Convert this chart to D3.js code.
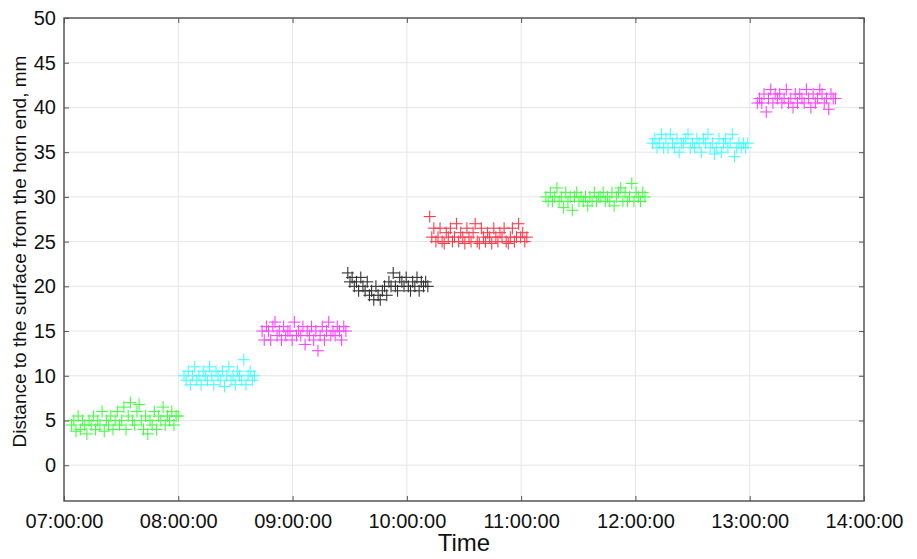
<!DOCTYPE html>
<html>
<head>
<meta charset="utf-8">
<script src="https://cdn.jsdelivr.net/npm/d3@7"></script>
<style>
  body { margin: 0; background: #fff; }
  svg text { font-family: "Liberation Sans", Arial, Helvetica, sans-serif; fill: #111; }
</style>
</head>
<body>
<div id="chart"></div>
<script>
// segment time windows (start, end) and readings, mm
const segStarts = ["07:04", "08:03", "08:44", "09:29", "10:12", "11:13", "12:09", "13:04"];
const segEnds   = ["08:00", "08:40", "09:28", "10:11", "11:03", "12:05", "12:59", "13:45"];
const segColors = ["#44ff44", "#44ffff", "#ff44ff", "#333333", "#ff3a4a", "#44ff44", "#44ffff", "#ff44ff"];

const seg1 = [4.5,5.0,3.8,5.5,4.0,5.0,4.5,3.5,5.0,4.5,5.5,4.0,5.0,4.5,6.0,3.8,5.0,4.5,5.5,4.0,5.0,6.0,4.5,5.0,6.5,4.0,5.5,7.0,5.0,4.5,6.0,6.8,5.0,4.0,5.5,3.5,5.0,4.5,6.0,4.0,5.5,5.0,6.5,4.5,5.5,5.0,6.0,4.5,5.5,5.5];
const seg2 = [10.0,9.5,10.5,9.0,10.0,11.0,9.5,10.0,9.0,10.5,10.0,9.5,11.0,10.0,9.0,10.5,10.0,9.5,10.5,8.8,10.0,11.0,9.5,10.0,9.0,10.5,10.0,9.5,11.8,9.0,10.0,10.5,9.5,10.0];
const seg3 = [15.0,14.0,15.5,15.0,14.0,15.5,16.0,14.5,15.0,14.0,15.5,14.5,15.0,15.0,14.0,16.0,14.5,15.0,14.5,15.5,13.5,15.0,14.5,15.5,14.0,15.0,12.8,14.5,15.5,14.0,15.0,16.0,14.5,15.0,14.5,15.5,15.0,14.0,15.5,15.0];
const seg4 = [21.5,20.5,21.0,20.0,20.5,19.5,21.0,20.0,19.5,20.5,19.0,19.5,18.5,20.0,19.0,18.5,19.5,20.0,19.0,20.5,20.0,21.5,20.0,19.5,21.0,20.5,20.0,21.0,20.0,19.5,20.5,20.0,21.0,19.5,20.5,20.0,20.5,20.0];
const seg5 = [27.8,25.5,26.5,25.0,25.5,26.5,25.0,24.8,26.0,25.5,26.5,25.0,25.5,27.0,25.0,26.0,25.5,24.8,26.5,25.5,25.0,26.0,27.0,25.0,24.8,26.5,25.5,25.0,26.0,25.5,24.8,26.5,25.5,25.0,26.0,25.5,26.5,25.0,24.8,25.5,26.5,25.0,25.5,27.0,25.5,26.0,25.0,25.5];
const seg6 = [30.0,29.5,30.5,29.5,30.0,31.0,29.5,30.0,28.8,30.5,29.5,30.0,28.5,30.0,30.5,29.5,30.0,29.5,30.0,29.0,30.0,29.5,30.5,29.5,30.0,30.0,30.5,29.5,30.0,29.5,30.5,29.0,30.0,30.5,31.0,29.5,30.5,29.5,30.0,31.5,29.5,30.5,30.0,29.5,30.5,30.0];
const seg7 = [36.0,36.5,35.5,36.0,37.0,35.5,36.5,35.5,37.0,36.0,35.5,36.5,35.0,36.0,36.0,36.5,37.0,35.5,36.0,35.5,36.5,36.0,35.0,36.5,36.0,37.0,35.5,36.0,34.8,35.5,36.5,35.0,36.0,36.5,35.5,36.0,37.0,34.5,35.5,36.0,35.5,36.0,35.5,36.0];
const seg8 = [40.5,41.0,40.5,41.5,39.5,41.0,42.0,40.5,41.5,41.0,41.5,40.5,41.0,42.0,40.5,41.0,40.0,41.5,40.5,41.5,41.0,40.5,42.0,41.0,40.0,41.5,40.5,41.0,42.0,41.5,40.5,41.0,39.8,41.5,41.0,41.0];
const segValues = [seg1, seg2, seg3, seg4, seg5, seg6, seg7, seg8];

const xTickLabels = ["07:00:00", "08:00:00", "09:00:00", "10:00:00", "11:00:00", "12:00:00", "13:00:00", "14:00:00"];
const yTicks = [0, 5, 10, 15, 20, 25, 30, 35, 40, 45, 50];

const width = 917, height = 559;
const margin = { top: 18, right: 53, bottom: 58, left: 64 };

const parse = d3.timeParse("%H:%M");
const parseFull = d3.timeParse("%H:%M:%S");

const x = d3.scaleTime()
  .domain([parseFull(xTickLabels[0]), parseFull(xTickLabels[xTickLabels.length - 1])])
  .range([margin.left, width - margin.right]);

const y = d3.scaleLinear()
  .domain([-4, 50])
  .range([height - margin.bottom, margin.top]);

const svg = d3.select("#chart").append("svg")
  .attr("width", width)
  .attr("height", height);

const xTickVals = xTickLabels.map(parseFull);

// grid
svg.append("g").selectAll("line")
  .data(xTickVals.slice(1, -1))
  .join("line")
    .attr("x1", d => x(d)).attr("x2", d => x(d))
    .attr("y1", margin.top).attr("y2", height - margin.bottom)
    .attr("stroke", "#e6e6e6").attr("stroke-width", 1);

svg.append("g").selectAll("line")
  .data(yTicks.slice(0, -1))
  .join("line")
    .attr("x1", margin.left).attr("x2", width - margin.right)
    .attr("y1", d => y(d)).attr("y2", d => y(d))
    .attr("stroke", "#e6e6e6").attr("stroke-width", 1);

// data points as + markers
const points = [];
segValues.forEach((vals, s) => {
  const t0 = parse(segStarts[s]), t1 = parse(segEnds[s]);
  vals.forEach((v, i) => {
    const t = new Date(+t0 + (t1 - t0) * i / (vals.length - 1));
    points.push({ t, v, c: segColors[s] });
  });
});

const m = 6;
const pts = svg.append("g").selectAll("g")
  .data(points)
  .join("g")
    .attr("transform", d => `translate(${x(d.t)},${y(d.v)})`)
    .attr("stroke", d => d.c)
    .attr("stroke-width", 1.1);
pts.append("line").attr("x1", -m).attr("x2", m);
pts.append("line").attr("y1", -m).attr("y2", m);

// axes with inward ticks
const tickLen = 5;
svg.append("g")
  .attr("transform", `translate(0,${height - margin.bottom})`)
  .call(d3.axisBottom(x).tickValues(xTickVals).tickSizeInner(-tickLen).tickSizeOuter(0).tickFormat((d, i) => xTickLabels[i]))
  .call(g => g.select(".domain").remove())
  .call(g => g.selectAll(".tick line").attr("stroke", "#555"))
  .call(g => g.selectAll(".tick text").attr("dy", 0).attr("y", 27).attr("font-size", 20).attr("fill", "#111"));

svg.append("g")
  .attr("transform", `translate(0,${margin.top})`)
  .call(d3.axisTop(x).tickValues(xTickVals).tickSizeInner(-tickLen).tickSizeOuter(0).tickFormat(""))
  .call(g => g.select(".domain").remove())
  .call(g => g.selectAll(".tick line").attr("stroke", "#555"));

svg.append("g")
  .attr("transform", `translate(${margin.left},0)`)
  .call(d3.axisLeft(y).tickValues(yTicks).tickSizeInner(-tickLen).tickSizeOuter(0))
  .call(g => g.select(".domain").remove())
  .call(g => g.selectAll(".tick line").attr("stroke", "#555"))
  .call(g => g.selectAll(".tick text").attr("x", -8).attr("font-size", 20).attr("fill", "#111"));

svg.append("g")
  .attr("transform", `translate(${width - margin.right},0)`)
  .call(d3.axisRight(y).tickValues(yTicks).tickSizeInner(-tickLen).tickSizeOuter(0).tickFormat(""))
  .call(g => g.select(".domain").remove())
  .call(g => g.selectAll(".tick line").attr("stroke", "#555"));

// frame
svg.append("rect")
  .attr("x", margin.left).attr("y", margin.top)
  .attr("width", width - margin.left - margin.right)
  .attr("height", height - margin.top - margin.bottom)
  .attr("fill", "none").attr("stroke", "#555").attr("stroke-width", 1.5);

// labels
svg.append("text")
  .attr("x", (margin.left + width - margin.right) / 2)
  .attr("y", 551)
  .attr("text-anchor", "middle")
  .attr("font-size", 24)
  .text("Time");

svg.append("text")
  .attr("transform", `translate(26,${(margin.top + height - margin.bottom) / 2 - 8}) rotate(-90)`)
  .attr("text-anchor", "middle")
  .attr("font-size", 19)
  .text("Distance to the surface from the horn end, mm");
</script>
</body>
</html>
